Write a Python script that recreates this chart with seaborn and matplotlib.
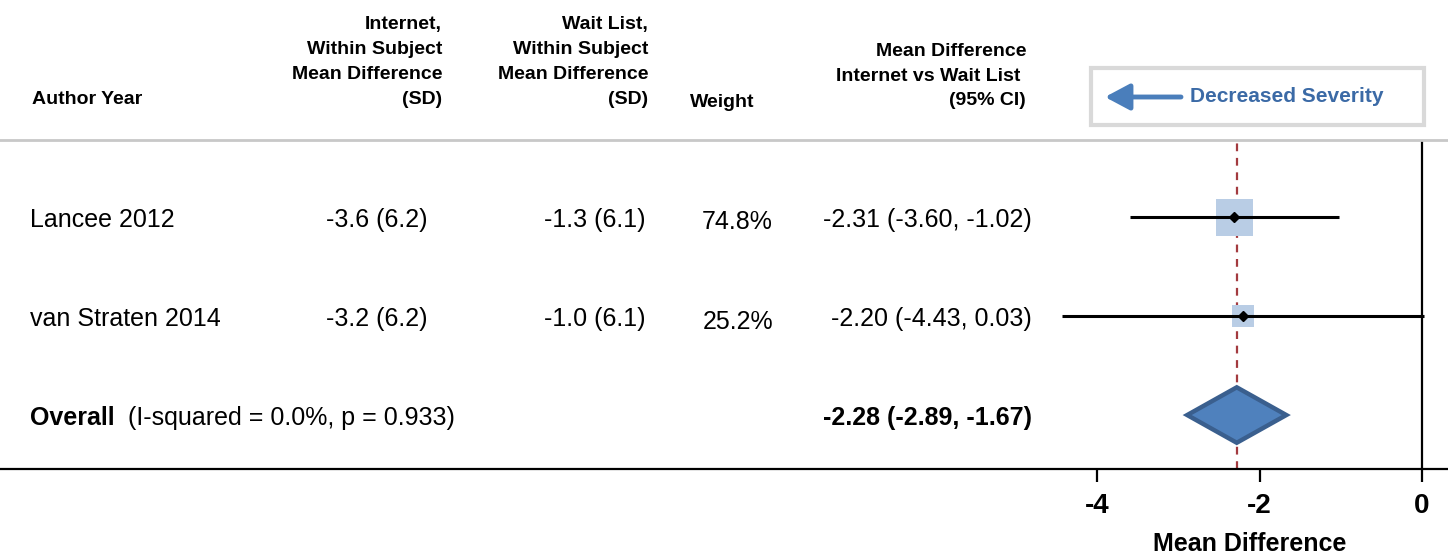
import numpy as np
import pandas as pd
import seaborn as sns
import matplotlib.pyplot as plt
from matplotlib import transforms
from matplotlib.patches import Polygon, Rectangle

# data
studies = ['Lancee 2012', 'van Straten 2014']
internet_md = [-3.6, -3.2]
internet_sd = [6.2, 6.2]
waitlist_md = [-1.3, -1.0]
waitlist_sd = [6.1, 6.1]
weights = [74.8, 25.2]
md = [-2.31, -2.20]
ci_lo = [-3.60, -4.43]
ci_hi = [-1.02, 0.03]
overall_md = -2.28
overall_lo = -2.89
overall_hi = -1.67
i_squared = 0.0
p_het = 0.933
xticks = [-4, -2, 0]

sns.set_style('white')
plt.rcParams['font.family'] = ['Liberation Sans', 'DejaVu Sans']
plt.rcParams['text.color'] = 'black'
plt.rcParams['axes.labelcolor'] = 'black'
plt.rcParams['xtick.color'] = 'black'

W, H = 1448, 560
fig = plt.figure(figsize=(W / 100, H / 100), dpi=100)


def fx(px):
    return px / W


def fy(py):
    return 1 - py / H


# one axes over the full width, the x scale is the mean difference
ax = fig.add_axes([0, fy(469), 1, (469 - 140) / H])
ax.set_xlim(-1422 / 81.25, 26 / 81.25)
ax.set_ylim(2.545, -0.778)

df = pd.DataFrame({'study': studies, 'md': md, 'lo': ci_lo, 'hi': ci_hi,
                   'weight': weights, 'row': np.arange(len(studies))})

# pooled estimate reference line and the zero line
ax.axvline(overall_md, color='#a33a3f', lw=1.6, ls=(0, (3.5, 3)), zorder=1)
ax.axvline(0, color='black', lw=1.6, zorder=1)

# weight squares, CIs and point estimates
sns.scatterplot(data=df, x='md', y='row', size='weight', sizes=(240, 710),
                marker='s', color='#b9cde5', linewidth=0, legend=False,
                ax=ax, zorder=2)
ax.hlines(df['row'], df['lo'], df['hi'], color='black', lw=2.2, zorder=3)
ax.plot(df['md'], df['row'], 'D', color='black', ms=5, zorder=4)

# overall diamond
yo = len(studies)
h = 0.28
diamond = Polygon([[overall_lo, yo], [overall_md, yo - h], [overall_hi, yo],
                   [overall_md, yo + h]], closed=True, facecolor='#4f81bd',
                  edgecolor='#3a5f8e', lw=3.2, joinstyle='miter', zorder=3)
ax.add_patch(diamond)

# axes styling
for s in ['left', 'right']:
    ax.spines[s].set_visible(False)
ax.spines['top'].set_color('#c8c8c8')
ax.spines['top'].set_linewidth(2)
ax.spines['bottom'].set_color('black')
ax.spines['bottom'].set_linewidth(1.6)
ax.set_yticks([])
ax.set_xticks(xticks)
ax.set_xticklabels([str(t) for t in xticks], fontweight='bold')
ax.tick_params(axis='x', length=9.5, width=1.6, pad=8, labelsize=20,
               direction='out', bottom=True, colors='black')
ax.set_xlabel('Mean Difference', fontsize=18, fontweight='bold')
ax.xaxis.set_label_coords(fx(1250), -0.19)
ax.set_ylabel('')

# text columns: x in figure fraction, y on row positions
tr = transforms.blended_transform_factory(fig.transFigure, ax.transData)
for i in range(len(studies)):
    kw = dict(transform=tr, va='center_baseline', fontsize=18)
    ax.text(fx(30), i, studies[i], ha='left', **kw)
    ax.text(fx(427), i, f'{internet_md[i]:.1f} ({internet_sd[i]:.1f})', ha='right', **kw)
    ax.text(fx(645), i, f'{waitlist_md[i]:.1f} ({waitlist_sd[i]:.1f})', ha='right', **kw)
    ax.text(fx(773), i + 0.03, f'{weights[i]:.1f}%', ha='right', **kw)
    ax.text(fx(1032), i, f'{md[i]:.2f} ({ci_lo[i]:.2f}, {ci_hi[i]:.2f})', ha='right', **kw)

kw = dict(transform=tr, va='center_baseline', fontsize=18)
ax.text(fx(30), yo, 'Overall', ha='left', fontweight='bold', **kw)
ax.text(fx(128), yo, f'(I-squared = {i_squared:.1f}%, p = {p_het:.3f})', ha='left', **kw)
ax.text(fx(1032), yo, f'{overall_md:.2f} ({overall_lo:.2f}, {overall_hi:.2f})',
        ha='right', fontweight='bold', **kw)

# header
hkw = dict(fontsize=14, fontweight='bold', va='baseline')
fig.text(fx(32), fy(104), 'Author Year', ha='left', **hkw)
for txt, yb in zip(['Internet,', 'Within Subject', 'Mean Difference', '(SD)'], [29, 54, 79, 104]):
    fig.text(fx(442), fy(yb), txt, ha='right', **hkw)
for txt, yb in zip(['Wait List,', 'Within Subject', 'Mean Difference', '(SD)'], [29, 54, 79, 104]):
    fig.text(fx(648), fy(yb), txt, ha='right', **hkw)
fig.text(fx(690), fy(107), 'Weight', ha='left', **hkw)
for txt, yb in zip(['Mean Difference', 'Internet vs Wait List ', '(95% CI)'], [56, 81, 105]):
    fig.text(fx(1026), fy(yb), txt, ha='right', **hkw)

# direction box
fig.patches.append(Rectangle((fx(1091), fy(125)), fx(333), 57 / H,
                             transform=fig.transFigure, facecolor='white',
                             edgecolor='#d9d9d9', lw=3))
fig.add_artist(plt.Annotation('', xy=(fx(1105), fy(97)), xytext=(fx(1181), fy(97)),
                              xycoords='figure fraction', textcoords='figure fraction',
                              arrowprops=dict(arrowstyle='-|>,head_length=0.75,head_width=0.4',
                                              color='#4a7ebb', lw=3.5,
                                              mutation_scale=20, shrinkA=0, shrinkB=0)))
fig.text(fx(1190), fy(97), 'Decreased Severity', ha='left', va='center',
         fontsize=15, fontweight='bold', color='#3b6aa6')

fig.savefig('out.png', dpi=100)
